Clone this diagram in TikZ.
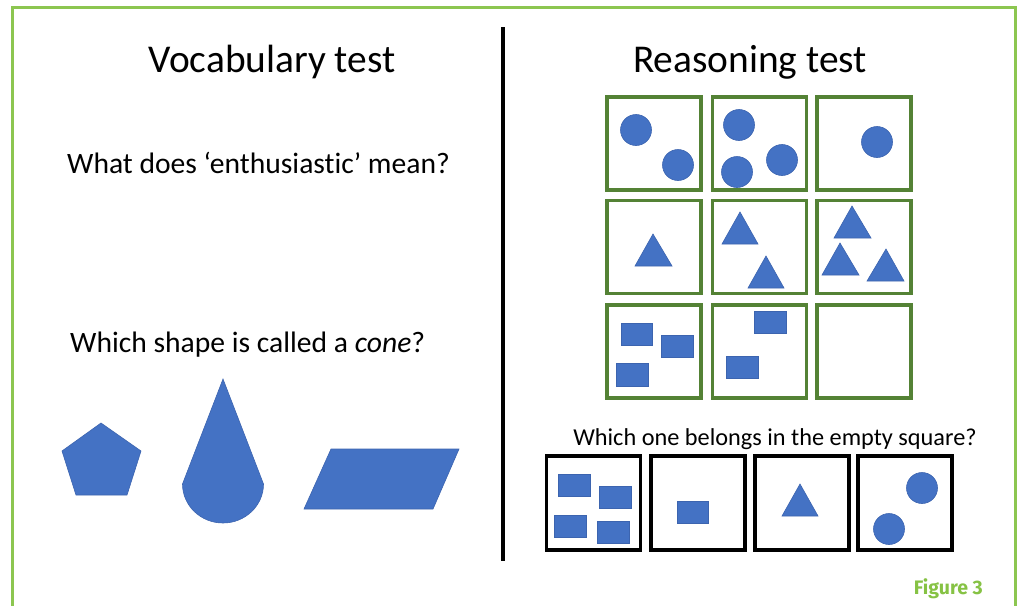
\documentclass[tikz,border=0pt]{standalone}
\usepackage{fontspec}
\setmainfont[Ligatures=NoCommon]{Carlito}
\newfontfamily\figfont{Fira Sans}
\definecolor{shapeblue}{RGB}{68,114,196}
\definecolor{shapeedge}{RGB}{60,100,175}
\definecolor{boxgreen}{RGB}{84,130,53}
\definecolor{framegreen}{RGB}{140,198,80}
\definecolor{labelgreen}{RGB}{134,194,68}
\tikzset{
  shp/.style={fill=shapeblue, draw=shapeedge, line width=0.6pt},
  gbox/.style={draw=boxgreen, line width=3.6pt, minimum width=94pt, minimum height=93pt, inner sep=0pt},
  kbox/.style={draw=black, line width=3.6pt, minimum width=94pt, minimum height=94pt, inner sep=0pt},
  ttl/.style={anchor=base, inner sep=0pt, font=\fontsize{39.4}{42}\selectfont},
  qst/.style={anchor=base west, inner sep=0pt, font=\fontsize{29.6}{32}\selectfont},
}
\begin{document}
\begin{tikzpicture}[x=1pt, y=-1pt]
\useasboundingbox (0,0) rectangle (1022,605);
% frame
\draw[framegreen, line width=3pt] (12.5,610) -- (12.5,7.5) -- (1015,7.5) -- (1015,610);
% divider
\coordinate (dtop) at (503,27);
\coordinate (dbot) at (503,561);
\draw[line width=3.8pt] (dtop) -- (dbot);
% titles
\node[ttl] (vt) at (272,72) {Vocabulary test};
\node[ttl] (rt) at (750,72) {Reasoning test};
\node[qst] (q1) at (67,173) {What does ‘enthusiastic’ mean?};
\node[qst] (q2) at (70,352) {Which shape is called a \textit{cone}?};
\node[anchor=base, inner sep=0pt, font=\fontsize{24.3}{27}\selectfont] (q3) at (775,445) {Which one belongs in the empty square?};
\node[anchor=base east, inner sep=0pt, text=labelgreen, font=\figfont\bfseries\fontsize{19.5}{22}\selectfont] (fig) at (983,594) {Figure 3};
% left shapes
\filldraw[shp] (101,423) -- (141,451) -- (127,495) -- (76,495) -- (62,451) -- cycle;
\filldraw[shp] (223,379) -- (263.5,484) arc[start angle=0, end angle=180, x radius=40.5, y radius=39] -- cycle;
\filldraw[shp] (331,449) -- (459,449) -- (433,509) -- (304,509) -- cycle;
% grid boxes
\node[gbox] (g11) at (654,143.5) {};
\node[gbox] (g12) at (759.5,143.5) {};
\node[gbox] (g13) at (864,143.5) {};
\node[gbox] (g21) at (654,247) {};
\node[gbox] (g22) at (759.5,247) {};
\node[gbox] (g23) at (864,247) {};
\node[gbox] (g31) at (654,351.5) {};
\node[gbox] (g32) at (759.5,351.5) {};
\node[gbox] (g33) at (864,351.5) {};
% circles
\filldraw[shp] (636,130) circle[radius=15.5];
\filldraw[shp] (678,165) circle[radius=15.5];
\filldraw[shp] (739,125) circle[radius=15.5];
\filldraw[shp] (782,160) circle[radius=15.5];
\filldraw[shp] (737,172) circle[radius=15.5];
\filldraw[shp] (877,142) circle[radius=15.5];
% triangles
\filldraw[shp] (653,234) -- (672,266) -- (635,266) -- cycle;
\filldraw[shp] (740,212) -- (758,244) -- (722,244) -- cycle;
\filldraw[shp] (766,256) -- (784,288) -- (748,288) -- cycle;
\filldraw[shp] (852,206) -- (871,238) -- (834,238) -- cycle;
\filldraw[shp] (840,243) -- (859,275) -- (822,275) -- cycle;
\filldraw[shp] (886,249) -- (904,281) -- (867,281) -- cycle;
% rectangles
\filldraw[shp] (621,323) rectangle (652,345);
\filldraw[shp] (661,335) rectangle (693,357);
\filldraw[shp] (616,363) rectangle (648,386);
\filldraw[shp] (754,311) rectangle (786,333);
\filldraw[shp] (726,356) rectangle (758,378);
% answer boxes
\node[kbox] (a1) at (593.5,503) {};
\node[kbox] (a2) at (698,503) {};
\node[kbox] (a3) at (802,503) {};
\node[kbox] (a4) at (905,503) {};
\filldraw[shp] (558,474) rectangle (590,496);
\filldraw[shp] (599,486) rectangle (631,508);
\filldraw[shp] (554,515) rectangle (586,537);
\filldraw[shp] (597,521) rectangle (629,543);
\filldraw[shp] (677,501) rectangle (708,523);
\filldraw[shp] (800,484) -- (818,516) -- (782,516) -- cycle;
\filldraw[shp] (922,488) circle[radius=15.5];
\filldraw[shp] (889,529) circle[radius=15.5];
\end{tikzpicture}
\end{document}
